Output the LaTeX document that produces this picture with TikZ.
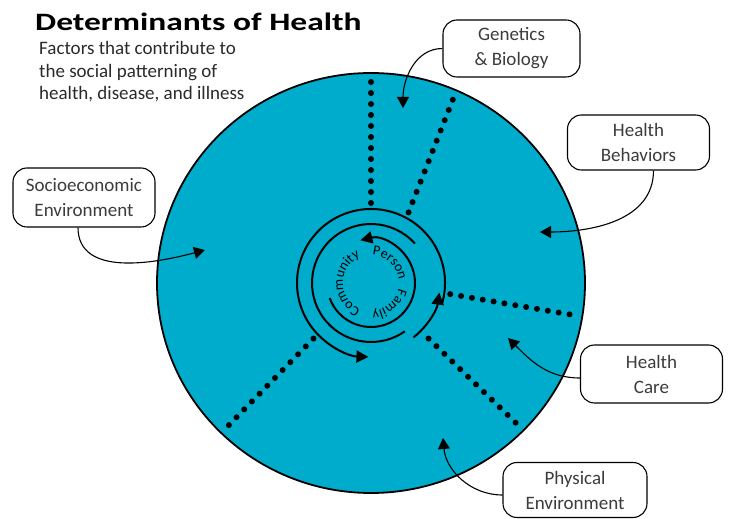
\documentclass[tikz,border=0pt]{standalone}
\usepackage{fontspec}
\setmainfont{Carlito}
\usepackage{graphicx}
\usepackage{tikz}
\usetikzlibrary{arrows.meta, decorations.text}
\definecolor{disque}{HTML}{00ACCB}
\definecolor{encre}{HTML}{3C3C3C}
\definecolor{sous}{HTML}{2A2A2A}
\tikzset{
  bulle/.style={rectangle, rounded corners=14pt, draw=black, fill=white, line width=1.1pt,
    text=encre, font=\fontsize{19}{25}\selectfont, align=center,
    minimum width=142pt, minimum height=57pt, inner sep=2pt},
  fleche/.style={-{Triangle[length=11pt, width=12pt]}, line width=1.1pt},
  rayon/.style={line width=6pt, line cap=round, dash pattern=on 0pt off 11pt},
  anneau/.style={line width=2pt},
  boucle/.style={anneau, -{Triangle[length=12pt, width=12pt]}},
  mot/.style={decorate, decoration={text along path, text align=center, text={#1}}},
}

\begin{document}
\begin{tikzpicture}[x=1pt, y=1pt]
    \useasboundingbox (0,0) rectangle (731,519);
    \coordinate (centre) at (371,236);
    \draw[fill=disque, line width=1.8pt] (centre) ellipse [x radius=214, y radius=210];

    \foreach \a/\b in {90/90, 62/66, -8/-9, -44/-44, 224/225}
      \draw[rayon] ([shift={(\a:80)}]centre) -- ([shift={(\b:205)}]centre);

    \draw[boucle] ([shift={(-17:74)}]centre) arc[start angle=-17, end angle=268, radius=74];
    \draw[anneau] ([shift={(42:59)}]centre) arc[start angle=42, end angle=305, radius=59];
    \draw[boucle] ([shift={(200:44)}]centre) arc[start angle=200, end angle=464, radius=44];
    \draw[boucle] ([shift={(-52:69)}]centre) arc[start angle=-52, end angle=-8, radius=69];

    \path[mot={|\fontsize{14}{14}\selectfont|Community}] ([shift={(255:28)}]centre) arc[start angle=255, end angle=105, radius=28];
    \path[mot={|\fontsize{14}{14}\selectfont|Person}] ([shift={(92:28)}]centre) arc[start angle=92, end angle=2, radius=28];
    \path[mot={|\fontsize{14}{14}\selectfont|Family}] ([shift={(-5:28)}]centre) arc[start angle=-5, end angle=-95, radius=28];

    \node[anchor=base west, inner sep=0, font=\bfseries\fontsize{25}{25}\selectfont] (titre) at (35,488)
      {\scalebox{1.34}[1]{Determinants of Health}};
    \node[anchor=base west, inner sep=0, align=left, text=sous, font=\fontsize{19}{22.5}\selectfont] (soustitre) at (39,419)
      {Factors that contribute to\\the social patterning of\\health, disease, and illness};

    \node[bulle, minimum width=137pt] (genetique) at (511.5,470.5) {Genetics\\\& Biology};
    \node[bulle, minimum height=55pt] (comportement) at (638.5,376.5) {Health\\Behaviors};
    \node[bulle, minimum height=59pt] (socio) at (84,321.5) {Socioeconomic\\Environment};
    \node[bulle, minimum height=58pt] (soins) at (651.5,145) {Health\\Care};
    \node[bulle, minimum width=144pt, minimum height=55pt] (physique) at (575,29) {Physical\\Environment};

    \coordinate (cgen) at (403,411);
    \coordinate (ccomp) at (540,287);
    \coordinate (csocio) at (205,269);
    \coordinate (csoins) at (508,181);
    \coordinate (cphys) at (443,81);
    \draw[fleche] (genetique.west) to[out=180, in=90] (cgen);
    \draw[fleche] ([xshift=15pt]comportement.south) to[out=-90, in=0] (ccomp);
    \draw[fleche] ([xshift=-6pt]socio.south) to[out=-90, in=195] (csocio);
    \draw[fleche] ([yshift=-4pt]soins.west) to[out=180, in=-45] (csoins);
    \draw[fleche] ([yshift=-5pt]physique.west) to[out=180, in=-85] (cphys);
\end{tikzpicture}
\end{document}
